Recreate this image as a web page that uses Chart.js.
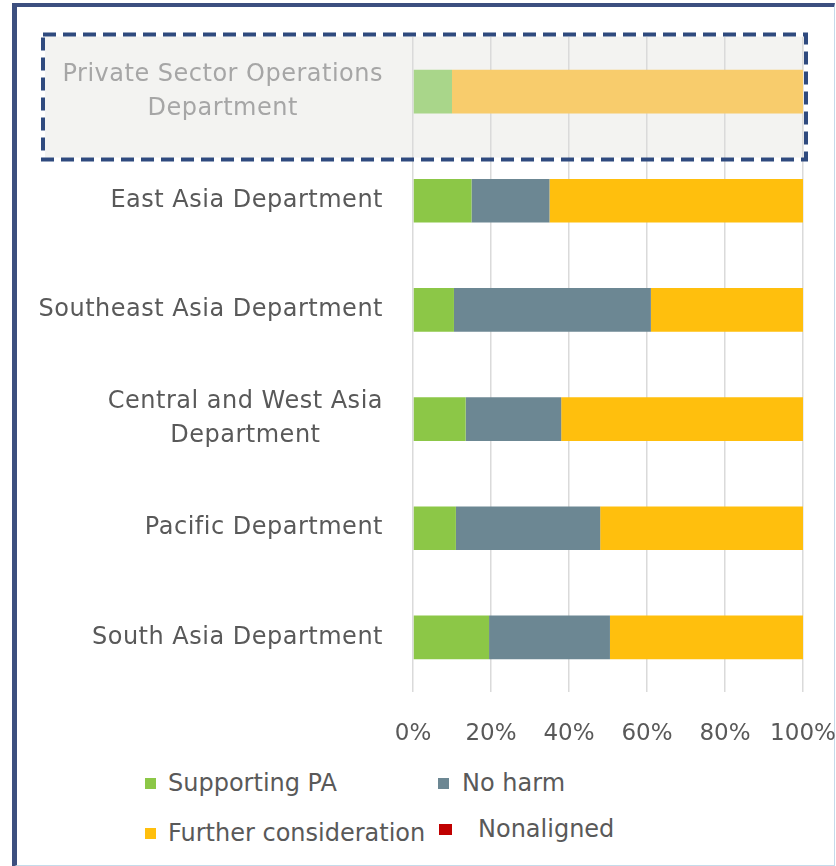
<!DOCTYPE html>
<html>
<head>
<meta charset="utf-8">
<script src="https://cdn.jsdelivr.net/npm/chart.js@4/dist/chart.umd.min.js"></script>
<style>
  body { margin: 0; background: #fff; width: 836px; height: 866px; overflow: hidden; position: relative; }
  #frame {
    position: absolute; left: 12px; top: 3px; width: 817px; height: 858px;
    border-left: 5px solid #3c4f7f; border-top: 4px solid #3c4f7f;
    border-right: 1px solid #c5dbea; border-bottom: 2px solid #c5dbea;
  }
  #chart { position: absolute; left: 0; top: 0; }
  .lg { position: absolute; font: 24px "DejaVu Sans", sans-serif; color: #595959; white-space: nowrap; line-height: 30px; }
  .lg i { position: absolute; width: 11px; height: 11px; top: 10px; }
</style>
</head>
<body>
<div id="frame"></div>
<canvas id="chart" width="836" height="760"></canvas>
<div id="legend"></div>
<script>
var categories = [
    ["Private Sector Operations", "Department"],
    "East Asia Department",
    "Southeast Asia Department",
    ["Central and West Asia", "Department"],
    "Pacific Department",
    "South Asia Department"
];
var supportingPA = [10, 15, 10.5, 13.5, 11, 19.5];
var noHarm = [0, 20, 50.5, 24.5, 37, 31];
var furtherConsideration = [90, 65, 39, 62, 52, 49.5];
var nonaligned = [0, 0, 0, 0, 0, 0];
var xTickLabels = ["0%", "20%", "40%", "60%", "80%", "100%"];

var labelFont = '24px "DejaVu Sans", sans-serif';

// first row is highlighted: lighter colours
function colours(main, faded) {
    return categories.map(function (c, i) { return i === 0 ? faded : main; });
}

var boxPlugin = {
    id: "boxPlugin",
    beforeDraw: function (chart) {
        var c = chart.ctx, y = chart.scales.y, a = chart.chartArea;
        var cy = y.getPixelForValue(0);
        c.save();
        c.fillStyle = "#f3f3f1";
        c.fillRect(45, cy - 55, a.right + 1 - 45, 121);
        c.restore();
    },
    afterDraw: function (chart) {
        var c = chart.ctx, y = chart.scales.y, a = chart.chartArea;
        var cy = y.getPixelForValue(0);
        c.save();
        // category labels, lines centred on each other, right edge 30px left of the plot
        c.font = labelFont;
        c.letterSpacing = "0.5px";
        c.textBaseline = "middle";
        c.textAlign = "center";
        categories.forEach(function (lab, i) {
            var lines = Array.isArray(lab) ? lab : [lab];
            var w = Math.max.apply(null, lines.map(function (l) { return c.measureText(l).width; }));
            var cx = a.left - 30 - w / 2;
            var py = y.getPixelForValue(i);
            c.fillStyle = i === 0 ? "#a6a6a6" : "#595959";
            lines.forEach(function (l, k) {
                c.fillText(l, cx, py + (k - (lines.length - 1) / 2) * 34);
            });
        });
        // dashed highlight box
        c.strokeStyle = "#2f4a7e";
        c.lineWidth = 4;
        c.setLineDash([13, 7]);
        c.strokeRect(43, cy - 57, a.right + 3 - 43, 125);
        c.restore();
    }
};

var chart = new Chart(document.getElementById("chart"), {
    type: "bar",
    data: {
        labels: categories,
        datasets: [
            { label: "Supporting PA", data: supportingPA, backgroundColor: colours("#8cc747", "#a9d68a") },
            { label: "No harm", data: noHarm, backgroundColor: colours("#6c8793", "#b9c6cc") },
            { label: "Further consideration", data: furtherConsideration, backgroundColor: colours("#ffbf0d", "#f8cc6c") },
            { label: "Nonaligned", data: nonaligned, backgroundColor: colours("#c00000", "#e08080") }
        ]
    },
    options: {
        indexAxis: "y",
        responsive: false,
        animation: false,
        layout: { padding: { top: 37, right: 33, left: 0, bottom: 0 } },
        datasets: { bar: { barPercentage: 0.5, categoryPercentage: 0.8 } },
        plugins: { legend: { display: false }, tooltip: { enabled: false } },
        scales: {
            x: {
                stacked: true,
                min: 0,
                max: 100,
                grid: { color: "#dadada", lineWidth: 1.5, drawTicks: false },
                border: { display: false },
                ticks: {
                    stepSize: 20,
                    padding: 28,
                    color: "#595959",
                    font: { family: "DejaVu Sans", size: 23 },
                    callback: function (v) { return xTickLabels[Math.round(v / 20)]; }
                },
                afterFit: function (s) {
                    s.height = 68;
                    // let the last label run off the edge like the original
                    s.paddingLeft = 0;
                    s.paddingRight = 0;
                }
            },
            y: {
                stacked: true,
                grid: { display: false },
                border: { display: false },
                ticks: { display: false },
                afterFit: function (s) { s.width = 413; }
            }
        }
    },
    plugins: [boxPlugin]
});

// html legend built from the datasets
var legendPos = [
    { left: 145, top: 768, gap: 23 },
    { left: 438, top: 768, gap: 24 },
    { left: 145, top: 818, gap: 23 },
    { left: 439, top: 814, gap: 39, size: 13 }
];
var legendBox = document.getElementById("legend");
chart.data.datasets.forEach(function (ds, i) {
    var p = legendPos[i];
    var el = document.createElement("div");
    el.className = "lg";
    el.style.left = p.left + "px";
    el.style.top = p.top + "px";
    el.style.paddingLeft = p.gap + "px";
    var sq = document.createElement("i");
    sq.style.left = "0px";
    sq.style.background = ds.backgroundColor[1];
    if (p.size) { sq.style.width = p.size + "px"; sq.style.height = (p.size - 2) + "px"; }
    el.appendChild(sq);
    el.appendChild(document.createTextNode(ds.label));
    legendBox.appendChild(el);
});
</script>
</body>
</html>
